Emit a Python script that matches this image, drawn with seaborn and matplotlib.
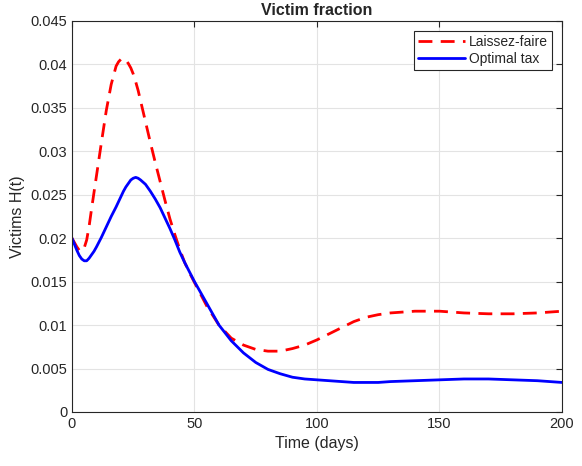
import numpy as np
import pandas as pd
import matplotlib
matplotlib.use("Agg")
import matplotlib.pyplot as plt
import seaborn as sns

# time axis (days)
days = [0, 1, 2, 3, 4, 5, 6, 7, 8, 9, 10, 12, 14, 16, 18, 19, 20, 21, 22, 23, 24, 25,
        26, 27, 28, 30, 32, 34, 36, 38, 40, 42, 44, 46, 48, 50, 55, 60, 65, 70, 75,
        80, 85, 90, 95, 100, 105, 110, 115, 120, 125, 130, 140, 150, 160, 170, 180,
        190, 200]

laissez_faire = [0.0200, 0.0195, 0.0190, 0.0186, 0.0185, 0.0189, 0.0198, 0.0214, 0.0234,
                 0.0253, 0.0272, 0.0310, 0.0347, 0.0377, 0.0398, 0.0403, 0.0406, 0.0407,
                 0.0405, 0.0401, 0.0396, 0.0389, 0.0380, 0.0370, 0.0358, 0.0334, 0.0310,
                 0.0287, 0.0265, 0.0243, 0.0222, 0.0204, 0.0187, 0.0172, 0.0160, 0.0149,
                 0.0122, 0.0100, 0.0085, 0.0077, 0.0072, 0.0070, 0.0070, 0.0073, 0.0077,
                 0.0083, 0.0090, 0.0097, 0.0104, 0.0109, 0.0112, 0.0114, 0.0116, 0.0116,
                 0.0114, 0.0113, 0.0113, 0.0114, 0.0116]

optimal_tax = [0.0200, 0.0193, 0.0186, 0.0180, 0.0176, 0.0174, 0.0174, 0.0177, 0.0181,
               0.0185, 0.0190, 0.0201, 0.0213, 0.0225, 0.0236, 0.0242, 0.0248, 0.0254,
               0.0259, 0.0263, 0.0267, 0.0269, 0.0270, 0.0269, 0.0267, 0.0262, 0.0254,
               0.0245, 0.0235, 0.0223, 0.0211, 0.0198, 0.0184, 0.0172, 0.0161, 0.0150,
               0.0125, 0.0100, 0.0082, 0.0068, 0.0057, 0.0049, 0.0044, 0.0040, 0.0038,
               0.0037, 0.0036, 0.0035, 0.0034, 0.0034, 0.0034, 0.0035, 0.0036, 0.0037,
               0.0038, 0.0038, 0.0037, 0.0036, 0.0034]

sns.set_style("whitegrid")
plt.rcParams['font.family'] = ['Liberation Sans', 'DejaVu Sans']

fig = plt.figure(figsize=(5.82, 4.66), dpi=100)
ax = fig.add_axes([0.1237, 0.1159, 0.8419, 0.8391])

sns.lineplot(x=days, y=laissez_faire, ax=ax, color=(1, 0, 0), lw=2,
             label='Laissez-faire')
ax.lines[-1].set_dashes((5, 3))
sns.lineplot(x=days, y=optimal_tax, ax=ax, color=(0, 0, 1), lw=2,
             label='Optimal tax')
for ln in ax.lines:
    ln.set_solid_joinstyle('round')
    ln.set_dash_joinstyle('round')

ax.set_xlim(0, 200)
ax.set_ylim(0, 0.045)
ax.set_xticks([0, 50, 100, 150, 200])
ax.set_yticks(np.arange(0, 0.0451, 0.005))
ax.set_yticklabels(['0', '0.005', '0.01', '0.015', '0.02', '0.025', '0.03',
                    '0.035', '0.04', '0.045'])
ax.grid(True, color='#e3e3e3', lw=0.8)
for s in ax.spines.values():
    s.set_color('#262626')
    s.set_linewidth(0.8)
ax.tick_params(direction='in', length=4, width=0.8, colors='#262626',
               labelsize=10.5, top=True, right=True, labeltop=False, labelright=False)
ax.set_xlabel('Time (days)', fontsize=11.5, color='#262626')
ax.set_ylabel('Victims H(t)', fontsize=11.5, color='#262626')
ax.set_title('Victim fraction', fontsize=11.5, fontweight='bold', pad=4)

leg = ax.legend(loc='upper right', fontsize=10, fancybox=False, framealpha=1,
                edgecolor='#262626', borderpad=0.3, handlelength=3.4,
                handletextpad=0.3, labelspacing=0.2, borderaxespad=0.7)
leg.get_frame().set_linewidth(0.8)

fig.savefig('out.png', dpi=100)
